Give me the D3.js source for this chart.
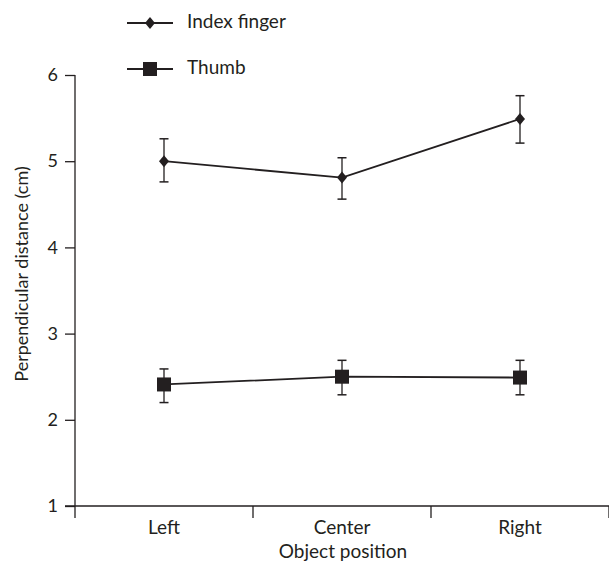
<!DOCTYPE html>
<html>
<head>
<meta charset="utf-8">
<script src="https://cdn.jsdelivr.net/npm/d3@7"></script>
<style>
  body { margin: 0; background: #fff; }
  text { font-family: Lato, "Open Sans", sans-serif; fill: #231f20; }
</style>
</head>
<body>
<div id="chart"></div>
<script>
// data
const positions = ["Left", "Center", "Right"];
const indexMean = [5.0, 4.81, 5.49];
const indexLow = [4.76, 4.56, 5.21];
const indexHigh = [5.26, 5.04, 5.76];
const thumbMean = [2.41, 2.5, 2.49];
const thumbLow = [2.2, 2.29, 2.29];
const thumbHigh = [2.59, 2.69, 2.69];
const yTicks = [1, 2, 3, 4, 5, 6];

const width = 609, height = 564;
const ink = "#231f20";

const svg = d3.select("#chart").append("svg")
  .attr("width", width)
  .attr("height", height);

const x = d3.scaleBand().domain(positions).range([75, 609]).padding(0);
const y = d3.scaleLinear().domain([1, 6]).range([506, 75]);

// y axis
const yAxis = svg.append("g")
  .attr("transform", "translate(75,0)")
  .call(d3.axisLeft(y).tickValues(yTicks).tickSize(10).tickPadding(7).tickFormat(d3.format("d")));
yAxis.select(".domain").attr("d", "M0,75V518").attr("stroke", ink).attr("stroke-width", 1.3);
yAxis.selectAll(".tick line").attr("stroke", ink).attr("stroke-width", 1.3);
yAxis.selectAll(".tick text").style("font-size", "18px").style("font-family", "Lato, sans-serif").attr("fill", ink);

// x axis, ticks at band boundaries
const xAxis = svg.append("g").attr("transform", "translate(0,506)");
xAxis.append("path").attr("d", "M65,0H609").attr("stroke", ink).attr("stroke-width", 1.3);
xAxis.selectAll(".bound")
  .data(positions)
  .enter().append("line")
  .attr("x1", d => x(d) + x.bandwidth())
  .attr("x2", d => x(d) + x.bandwidth())
  .attr("y1", 0).attr("y2", 12)
  .attr("stroke", ink).attr("stroke-width", 1.3);
xAxis.selectAll(".lbl")
  .data(positions)
  .enter().append("text")
  .attr("x", d => x(d) + x.bandwidth() / 2)
  .attr("y", 28)
  .attr("text-anchor", "middle")
  .style("font-size", "19px")
  .text(d => d);

// axis titles
svg.append("text")
  .attr("x", 343).attr("y", 558)
  .attr("text-anchor", "middle")
  .style("font-size", "19px")
  .text("Object position");
svg.append("text")
  .attr("transform", "translate(28,274) rotate(-90)")
  .attr("text-anchor", "middle")
  .style("font-size", "18px")
  .text("Perpendicular distance (cm)");

const cx = d => x(d) + x.bandwidth() / 2;
const line = d3.line().x(d => cx(d.pos)).y(d => y(d.v));

function drawSeries(mean, low, high, marker) {
  const pts = positions.map((p, i) => ({ pos: p, v: mean[i], lo: low[i], hi: high[i] }));
  svg.append("path").datum(pts)
    .attr("d", line)
    .attr("fill", "none").attr("stroke", ink).attr("stroke-width", 1.8);
  const g = svg.append("g");
  pts.forEach(d => {
    g.append("line").attr("x1", cx(d.pos)).attr("x2", cx(d.pos))
      .attr("y1", y(d.lo)).attr("y2", y(d.hi)).attr("stroke", ink).attr("stroke-width", 1.3);
    [d.lo, d.hi].forEach(v => {
      g.append("line").attr("x1", cx(d.pos) - 4.5).attr("x2", cx(d.pos) + 4.5)
        .attr("y1", y(v)).attr("y2", y(v)).attr("stroke", ink).attr("stroke-width", 1.5);
    });
    g.append("path")
      .attr("transform", `translate(${cx(d.pos)},${y(d.v)})`)
      .attr("d", marker)
      .attr("fill", ink);
  });
}

const diamond = "M0,-6L5,0L0,6L-5,0Z";
const square = "M-7,-7H7V7H-7Z";
drawSeries(indexMean, indexLow, indexHigh, diamond);
drawSeries(thumbMean, thumbLow, thumbHigh, square);

// legend
const legend = [
  { name: "Index finger", marker: diamond, y: 23 },
  { name: "Thumb", marker: square, y: 69 }
];
legend.forEach(l => {
  svg.append("line").attr("x1", 127).attr("x2", 173).attr("y1", l.y).attr("y2", l.y)
    .attr("stroke", ink).attr("stroke-width", 1.8);
  svg.append("path").attr("transform", `translate(150,${l.y})`).attr("d", l.marker).attr("fill", ink);
  svg.append("text").attr("x", 187).attr("y", l.y + 5)
    .style("font-size", "19px").text(l.name);
});
</script>
</body>
</html>
